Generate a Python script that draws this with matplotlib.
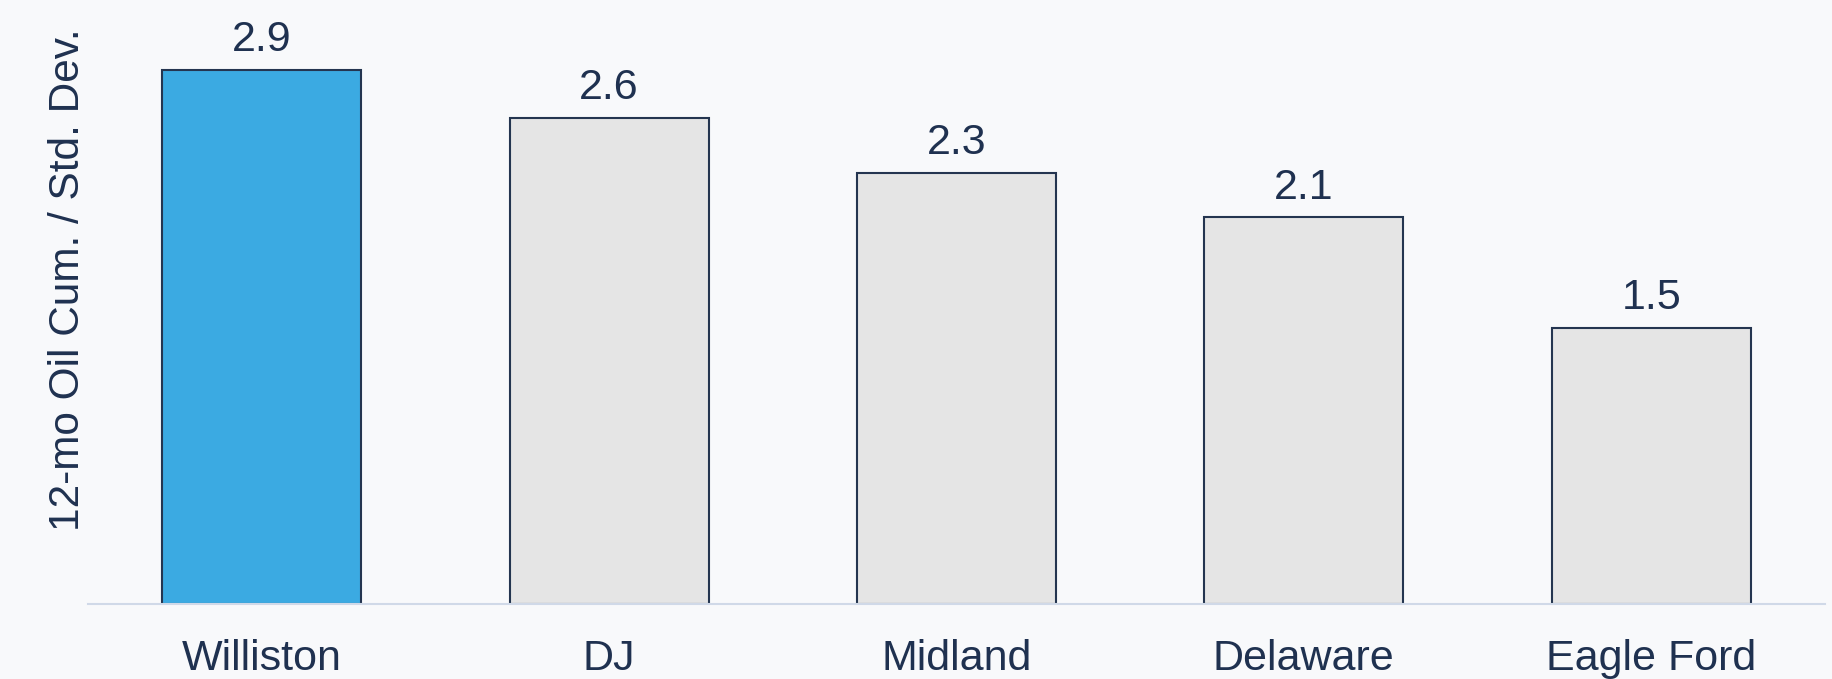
import matplotlib
matplotlib.use("Agg")
import matplotlib.pyplot as plt

categories = ["Williston", "DJ", "Midland", "Delaware", "Eagle Ford"]
values = [2.90, 2.64, 2.34, 2.10, 1.50]
highlight = "Williston"
ylabel = "12-mo Oil Cum. / Std. Dev."

bg = "#F8F9FB"
text_c = "#1F3150"
edge_c = "#243550"
blue = "#3BAAE2"
grey = "#E5E5E5"

plt.rcParams["font.family"] = ["Liberation Sans", "DejaVu Sans"]

fig = plt.figure(figsize=(18.33, 6.79), dpi=100, facecolor=bg)
ax = fig.add_axes([0.048, 0.1105, 0.9476, 0.8895])
ax.set_facecolor(bg)

colors = [blue if c == highlight else grey for c in categories]
x = range(len(categories))
bars = ax.bar(x, values, width=0.573, color=colors, edgecolor=edge_c, linewidth=1.5, zorder=2)

for b, v in zip(bars, values):
    ax.annotate(f"{v:.1f}", (b.get_x() + b.get_width() / 2, v), xytext=(0, 7),
                textcoords="offset points", ha="center", va="bottom",
                fontsize=31, color=text_c)

ax.set_xlim(-0.5, 4.5)
ax.set_ylim(0, 3.28)
ax.set_xticks(list(x))
ax.set_xticklabels(categories, fontsize=31, color=text_c)
ax.tick_params(axis="x", length=0, pad=25)
ax.set_yticks([])
fig.text(68 / 1833, 1 - 280 / 679, ylabel, rotation=90, ha="center", va="center",
         fontsize=30.5, color=text_c)

for s in ["top", "right", "left"]:
    ax.spines[s].set_visible(False)
ax.spines["bottom"].set_color("#D0D9E8")
ax.spines["bottom"].set_linewidth(1.5)

fig.savefig("out.png", dpi=100, facecolor=bg)
